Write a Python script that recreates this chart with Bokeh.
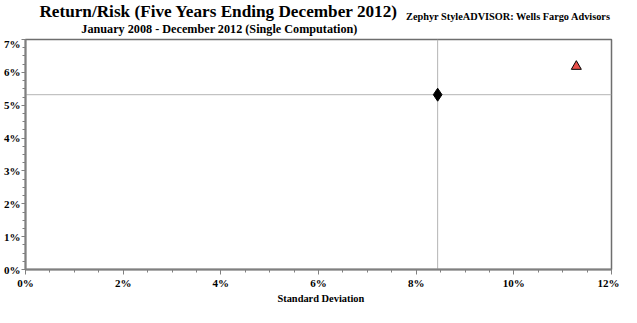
from bokeh.plotting import figure
from bokeh.layouts import column
from bokeh.models import (FixedTicker, PrintfTickFormatter, Span, Range1d,
                          ColumnDataSource)
from bokeh.core.properties import value
from bokeh.embed import file_html
from bokeh.resources import INLINE

# ---- data ----
series_names = ["Portfolio", "Index"]
std_dev = [8.44, 11.28]        # Standard Deviation (%)
returns = [5.32, 6.18]         # Return (%)
markers = ["diamond", "triangle"]
fill_colors = ["#000000", "#e8504b"]
sizes = [13, 10]

x_ticks = [0, 2, 4, 6, 8, 10, 12]
y_ticks = [0, 1, 2, 3, 4, 5, 6, 7]
ref_x = 8.44   # reference std dev line
ref_y = 5.32   # reference return line

title_text = "Return/Risk (Five Years Ending December 2012)"
subtitle_text = "January 2008 - December 2012 (Single Computation)"
source_text = "Zephyr StyleADVISOR: Wells Fargo Advisors"
x_label = "Standard Deviation"

FONT = "Liberation Serif"
W = 619
HEAD_H = 37
FOOT_H = 13
MAIN_H = 304 - HEAD_H - FOOT_H


def blank(h):
    f = figure(width=W, height=h, output_backend="svg", toolbar_location=None,
               x_range=Range1d(0, W), y_range=Range1d(h, 0), min_border=0)
    f.axis.visible = False
    f.grid.visible = False
    f.outline_line_color = None
    f.background_fill_color = "white"
    f.border_fill_color = "white"
    return f


# ---- header (titles) ----
head = blank(HEAD_H)
head.text(x=[14.7], y=[10.5], text=[title_text], text_font=value(FONT),
          text_font_style="bold", text_font_size="17.2px", text_align="left",
          text_baseline="alphabetic", text_color="black")
head.text(x=[59], y=[28.5], text=[subtitle_text], text_font=value(FONT),
          text_font_style="bold", text_font_size="12.2px", text_align="left",
          text_baseline="alphabetic", text_color="black")
head.text(x=[402], y=[16], text=[source_text], text_font=value(FONT),
          text_font_style="bold", text_font_size="10.3px", text_align="left",
          text_baseline="alphabetic", text_color="black")

# ---- main chart ----
p = figure(width=W, height=MAIN_H, output_backend="svg", toolbar_location=None,
           x_range=Range1d(0, 12), y_range=Range1d(0, 7),
           min_border_left=14, min_border_right=8, min_border_top=2,
           min_border_bottom=19)
p.background_fill_color = "white"
p.border_fill_color = "white"
p.outline_line_color = "#6e6e6e"
p.outline_line_width = 1.5
p.xgrid.visible = False
p.ygrid.visible = False

for ax in (p.xaxis[0], p.yaxis[0]):
    ax.axis_line_color = "#808080"
    ax.axis_line_width = 2
    ax.major_tick_line_color = "#808080"
    ax.minor_tick_line_color = "#808080"
    ax.major_tick_in = 0
    ax.minor_tick_in = 0
    ax.major_tick_out = 5
    ax.minor_tick_out = 3
    ax.major_label_text_font = FONT
    ax.major_label_text_font_style = "bold"
    ax.major_label_text_font_size = "11px"
    ax.major_label_text_color = "black"
    ax.formatter = PrintfTickFormatter(format="%d%%")
    ax.major_label_standoff = 2
p.yaxis[0].major_tick_out = 4
p.yaxis[0].major_label_standoff = 1

p.xaxis[0].ticker = FixedTicker(ticks=x_ticks,
                                minor_ticks=[i * 0.5 for i in range(25)])
p.yaxis[0].ticker = FixedTicker(ticks=y_ticks,
                                minor_ticks=[i * 0.25 for i in range(29)])

# reference lines
p.add_layout(Span(location=ref_x, dimension="height", line_color="#b4b4b4",
                  line_width=1, level="underlay"))
p.add_layout(Span(location=ref_y, dimension="width", line_color="#b4b4b4",
                  line_width=1, level="underlay"))

src = ColumnDataSource(dict(x=std_dev, y=returns, name=series_names,
                            marker=markers, fill=fill_colors, size=sizes))
p.scatter(x="x", y="y", marker="marker", size="size", fill_color="fill",
          line_color="black", line_width=1, source=src)

# ---- footer (x-axis title) ----
foot = blank(FOOT_H)
foot.text(x=[312], y=[6.5], text=[x_label], text_font=value(FONT),
          text_font_style="bold", text_font_size="10.4px", text_align="center",
          text_baseline="middle", text_color="black")

layout = column(head, p, foot, spacing=0)
open("out.html", "w").write(file_html(layout, INLINE))
